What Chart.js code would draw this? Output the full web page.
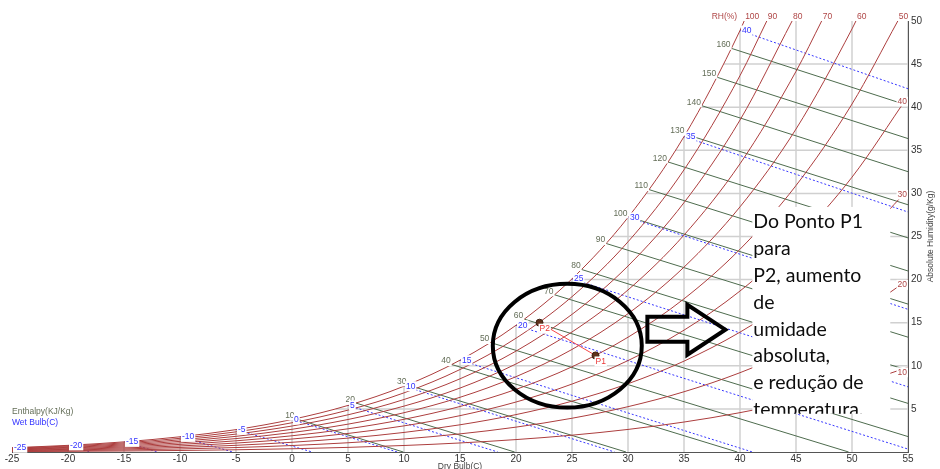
<!DOCTYPE html>
<html>
<head>
<meta charset="utf-8">
<script src="https://cdn.jsdelivr.net/npm/chart.js@4.4.1/dist/chart.umd.min.js"></script>
<style>
  html, body { margin: 0; padding: 0; background: #fff; overflow: hidden; }
  #wrap { width: 940px; height: 469px; position: relative; }
</style>
</head>
<body>
<div id="wrap"><canvas id="psy" width="940" height="469"></canvas></div>
<script>
// ---- Dry-bulb temperatures (°C) at which the RH curves are tabulated ----
const rhTemps = [-25, -20, -15, -10, -5, 0, 5, 10, 15, 20, 25, 30, 35, 40, 45, 50, 55];

// ---- Absolute humidity (g/kg) along each relative-humidity curve ----
const rh10  = [0.050, 0.077, 0.117, 0.176, 0.259, 0.375, 0.536, 0.755, 1.049, 1.440, 1.952, 2.618, 3.475, 4.566, 5.946, 7.675, 9.828];
const rh20  = [0.099, 0.154, 0.235, 0.352, 0.518, 0.751, 1.073, 1.511, 2.101, 2.885, 3.916, 5.258, 6.988, 9.200, 12.007, 15.543, 19.971];
const rh30  = [0.149, 0.231, 0.352, 0.528, 0.777, 1.128, 1.611, 2.270, 3.157, 4.338, 5.893, 7.920, 10.542, 13.903, 18.186, 23.609, 30.446];
const rh40  = [0.198, 0.308, 0.470, 0.704, 1.036, 1.505, 2.150, 3.031, 4.217, 5.798, 7.882, 10.606, 14.135, 18.677, 24.487, 31.882, 41.268];
const rh50  = [0.248, 0.385, 0.587, 0.881, 1.297, 1.882, 2.690, 3.793, 5.280, 7.264, 9.883, 13.314, 17.770, 23.522, 30.912, 40.370];
const rh60  = [0.297, 0.462, 0.705, 1.058, 1.556, 2.259, 3.231, 4.557, 6.346, 8.737, 11.898, 16.045, 21.447, 28.442, 37.466, 49.081];
const rh70  = [0.347, 0.539, 0.822, 1.234, 1.817, 2.637, 3.772, 5.323, 7.417, 10.216, 13.925, 18.800, 25.165, 33.437, 44.155];
const rh80  = [0.397, 0.616, 0.940, 1.411, 2.077, 3.016, 4.315, 6.091, 8.491, 11.704, 15.966, 21.579, 28.927, 38.509];
const rh90  = [0.446, 0.694, 1.058, 1.587, 2.338, 3.395, 4.858, 6.861, 9.568, 13.198, 18.019, 24.382, 32.733, 43.662];
const rh100 = [0.496, 0.771, 1.176, 1.764, 2.597, 3.775, 5.403, 7.632, 10.650, 14.699, 20.086, 27.210, 36.585, 48.893];
const rhLevels = [10, 20, 30, 40, 50, 60, 70, 80, 90, 100];
// dry bulb where a curve meets the 50 g/kg top edge (null: it runs out at 55 °C instead)
const rhTopTemp = [null, null, null, null, 54.09, 50.35, 47.29, 44.65, 42.39, 40.37];

// ---- Enthalpy lines (kJ/kg): start on saturation, end at w = 0 or at 55 °C ----
const enthalpyLevels = [10, 20, 30, 40, 50, 60, 70, 80, 90, 100, 110, 120, 130, 140, 150, 160];
const enthStartT = [0.32, 5.71, 10.30, 14.26, 17.71, 20.74, 23.44, 25.86, 28.05, 30.05, 31.88, 33.57, 35.13, 36.60, 37.97, 39.25];
const enthStartW = [3.86, 5.68, 7.79, 10.15, 12.70, 15.41, 18.24, 21.17, 24.19, 27.29, 30.44, 33.65, 36.87, 40.17, 43.47, 46.82];
const enthEndT   = [9.94, 19.88, 29.82, 39.76, 49.70, 55, 55, 55, 55, 55, 55, 55, 55, 55, 55, 55];
const enthEndW   = [0, 0, 0, 0, 0, 1.79, 5.64, 9.48, 13.32, 17.16, 21.00, 24.84, 28.68, 32.52, 36.36, 40.20];

// ---- Wet-bulb lines (°C): start on saturation at t = twb ----
const wbLevels = [-25, -20, -15, -10, -5, 0, 5, 10, 15, 20, 25, 30, 35, 40];
const wbStartW = [0.496, 0.771, 1.176, 1.764, 2.597, 3.775, 5.403, 7.632, 10.650, 14.699, 20.086, 27.210, 36.585, 48.893];
const wbEndT   = [-23.7, -18.0, -12.0, -5.3, 1.8, 9.39, 18.37, 28.80, 41.11, 55, 55, 55, 55, 55];
const wbEndW   = [0, 0, 0, 0, 0, 0, 0, 0, 0, 0.34, 7.56, 16.55, 27.84, 42.14];

// ---- Grid: vertical lines stop at saturation, horizontal lines start there ----
const dryBulbTicks = [-25, -20, -15, -10, -5, 0, 5, 10, 15, 20, 25, 30, 35, 40, 45, 50, 55];
const dryBulbGridTop = [0.496, 0.771, 1.176, 1.764, 2.597, 3.775, 5.403, 7.632, 10.650, 14.699, 20.086, 27.210, 36.585, 48.893, 50, 50, 50];
const humidityTicks = [5, 10, 15, 20, 25, 30, 35, 40, 45];
const humidityGridStart = [3.9, 14.03, 20.32, 24.93, 28.59, 31.63, 34.24, 36.52, 38.56];

// ---- Process points ----
const processNames = ['P1', 'P2'];
const processT = [27.1, 22.1];
const processW = [11.2, 15.0];

// ---- Note box text ----
const noteLines = ['Do Ponto P1', 'para', 'P2, aumento', 'de', 'umidade', 'absoluta,', 'e redução de', 'temperatura.'];

// ------------------------------------------------------------------
const RH_COLOR = 'rgb(172,62,62)';
const RH_TEXT = 'rgb(175,70,70)';
const ENTH_COLOR = 'rgb(78,108,78)';
const ENTH_TEXT = 'rgb(100,110,88)';
const WB_COLOR = 'rgb(55,55,255)';
const WB_TEXT = 'rgb(50,50,255)';
const GRID_COLOR = 'rgb(208,208,208)';
const SMALL = '8.5px "Liberation Sans"';

const pts = (xs, ys) => xs.map((x, i) => ({ x, y: ys[i] }));
const line = (data, color, width, extra) => Object.assign({
  data, showLine: true, borderColor: color, borderWidth: width, pointRadius: 0,
  fill: false, tension: 0
}, extra || {});

const datasets = [];

// grid
dryBulbTicks.forEach((t, i) => datasets.push(line([{ x: t, y: 0 }, { x: t, y: dryBulbGridTop[i] }], GRID_COLOR, 1.5, { order: 50 })));
humidityTicks.forEach((w, i) => datasets.push(line([{ x: humidityGridStart[i], y: w }, { x: 55, y: w }], GRID_COLOR, 1.5, { order: 50 })));

// enthalpy lines
enthalpyLevels.forEach((h, i) => datasets.push(line(
  [{ x: enthStartT[i], y: enthStartW[i] }, { x: enthEndT[i], y: enthEndW[i] }], ENTH_COLOR, 1, { order: 40 })));

// wet-bulb lines
wbLevels.forEach((t, i) => datasets.push(line(
  [{ x: t, y: wbStartW[i] }, { x: wbEndT[i], y: wbEndW[i] }], WB_COLOR, 1, { order: 30, borderDash: [2, 2] })));

// relative humidity curves
const rhSeries = [rh10, rh20, rh30, rh40, rh50, rh60, rh70, rh80, rh90, rh100];
rhSeries.forEach((vals, i) => {
  const data = pts(rhTemps.slice(0, vals.length), vals);
  if (rhTopTemp[i] !== null) data.push({ x: rhTopTemp[i], y: 50 });
  datasets.push(line(data, RH_COLOR, 1, { order: 20, cubicInterpolationMode: 'monotone' }));
});

// process P1 -> P2
datasets.push(line(pts(processT, processW), 'rgb(245,70,70)', 1, {
  order: 5, pointRadius: 3.5, pointBackgroundColor: 'rgb(95,50,28)', pointBorderColor: 'rgb(60,30,15)', pointBorderWidth: 1
}));

// --- overlay: labels, legend, titles, circle, arrow, note box ---
function tag(ctx, txt, x, y, align, color, bg) {
  ctx.font = SMALL;
  const w = ctx.measureText(txt).width;
  const x0 = align === 'right' ? x - w : x;
  if (bg) { ctx.fillStyle = '#fff'; ctx.fillRect(x0 - 1, y - 5, w + 2, 10); }
  ctx.fillStyle = color;
  ctx.textAlign = 'left';
  ctx.textBaseline = 'middle';
  ctx.fillText(txt, x0, y);
}

const overlay = {
  id: 'overlay',
  afterDatasetsDraw(chart) {
    const ctx = chart.ctx, ca = chart.chartArea;
    const X = v => chart.scales.x.getPixelForValue(v);
    const Y = v => chart.scales.y.getPixelForValue(v);
    ctx.save();

    // RH labels: top edge for 50..100, right edge for 10..40
    rhLevels.forEach((rh, i) => {
      const s = rhSeries[i];
      if (rhTopTemp[i] !== null) {
        tag(ctx, String(rh), X(rhTopTemp[i]) + 1, ca.top - 4.5, 'left', RH_TEXT, false);
      } else {
        tag(ctx, String(rh), ca.right - 1, Y(s[s.length - 1]) + 5, 'right', RH_TEXT, true);
      }
    });
    tag(ctx, 'RH(%)', X(rhTopTemp[9]) - 7, ca.top - 4.5, 'right', RH_TEXT, false);

    // enthalpy labels
    enthalpyLevels.forEach((h, i) => {
      tag(ctx, String(h), X(enthStartT[i]) - 1, Y(enthStartW[i]) - 3.5, 'right', ENTH_TEXT, true);
    });
    // wet-bulb labels
    wbLevels.forEach((t, i) => {
      tag(ctx, String(t), X(t) + 2, Y(wbStartW[i]), 'left', WB_TEXT, true);
    });

    // process labels
    processNames.forEach((n, i) => {
      tag(ctx, n, X(processT[i]), Y(processW[i]) + 6, 'left', 'rgb(235,55,55)', true);
    });

    // legend texts
    tag(ctx, 'Enthalpy(KJ/Kg)', ca.left, ca.bottom - 40, 'left', ENTH_TEXT, false);
    tag(ctx, 'Wet Bulb(C)', ca.left, ca.bottom - 29.5, 'left', WB_TEXT, false);

    // axis titles
    ctx.font = SMALL;
    ctx.fillStyle = '#444';
    ctx.textAlign = 'center';
    ctx.textBaseline = 'top';
    ctx.fillText('Dry Bulb(C)', (ca.left + ca.right) / 2, ca.bottom + 10);
    ctx.save();
    ctx.translate(ca.right + 23, (ca.top + ca.bottom) / 2);
    ctx.rotate(-Math.PI / 2);
    ctx.textBaseline = 'middle';
    ctx.fillText('Absolute Humidity(g/Kg)', 0, 0);
    ctx.restore();

    // circle around the process
    ctx.strokeStyle = '#000';
    ctx.lineWidth = 4;
    ctx.beginPath();
    const cx = X(24.58), cy = Y(12.33);
    ctx.ellipse(cx, cy, X(24.58 + 6.65) - cx, cy - Y(12.33 + 7.18), 0, 0, Math.PI * 2);
    ctx.stroke();

    // block arrow (outline only)
    const arrow = [[31.73, 15.69], [35.30, 15.69], [35.30, 17.08], [38.69, 14.19], [35.30, 11.29], [35.30, 12.79], [31.73, 12.79]];
    ctx.lineJoin = 'miter';
    ctx.beginPath();
    arrow.forEach(([t, w], k) => k ? ctx.lineTo(X(t), Y(w)) : ctx.moveTo(X(t), Y(w)));
    ctx.closePath();
    ctx.stroke();

    // note box
    const bx0 = X(41.10), bx1 = X(53.42), by0 = Y(28.43), by1 = Y(4.45);
    ctx.fillStyle = '#fff';
    ctx.fillRect(bx0, by0, bx1 - bx0, by1 - by0);
    ctx.save();
    ctx.beginPath();
    ctx.rect(bx0, by0, bx1 - bx0, by1 - by0);
    ctx.clip();
    ctx.font = '19.5px Lato';
    ctx.fillStyle = '#0d0d0d';
    ctx.textAlign = 'left';
    ctx.textBaseline = 'alphabetic';
    noteLines.forEach((s, k) => ctx.fillText(s, bx0 + 1, by0 + 21.5 + k * 26.8));
    ctx.restore();

    ctx.restore();
  }
};

Chart.defaults.font.family = '"Liberation Sans", Arial, sans-serif';

new Chart(document.getElementById('psy'), {
  type: 'scatter',
  data: { datasets },
  options: {
    responsive: false,
    animation: false,
    devicePixelRatio: 1,
    events: [],
    layout: { padding: { left: 12, top: 21, right: 0, bottom: 0 } },
    plugins: { legend: { display: false }, tooltip: { enabled: false } },
    scales: {
      x: {
        type: 'linear', min: -25, max: 55,
        afterFit: s => { s.height = 17; },
        grid: { display: false, drawTicks: false },
        border: { display: true, color: '#555', width: 1 },
        ticks: { stepSize: 5, padding: 1, color: '#333', font: { size: 10 }, maxRotation: 0, autoSkip: false }
      },
      y: {
        type: 'linear', position: 'right', min: 0, max: 50,
        afterFit: s => { s.width = 32; },
        grid: { display: false, drawTicks: false },
        border: { display: true, color: '#555', width: 1 },
        ticks: { stepSize: 5, padding: 3, color: '#333', font: { size: 10 }, callback: v => (v === 0 ? '' : v) }
      }
    }
  },
  plugins: [overlay]
});
</script>
</body>
</html>
